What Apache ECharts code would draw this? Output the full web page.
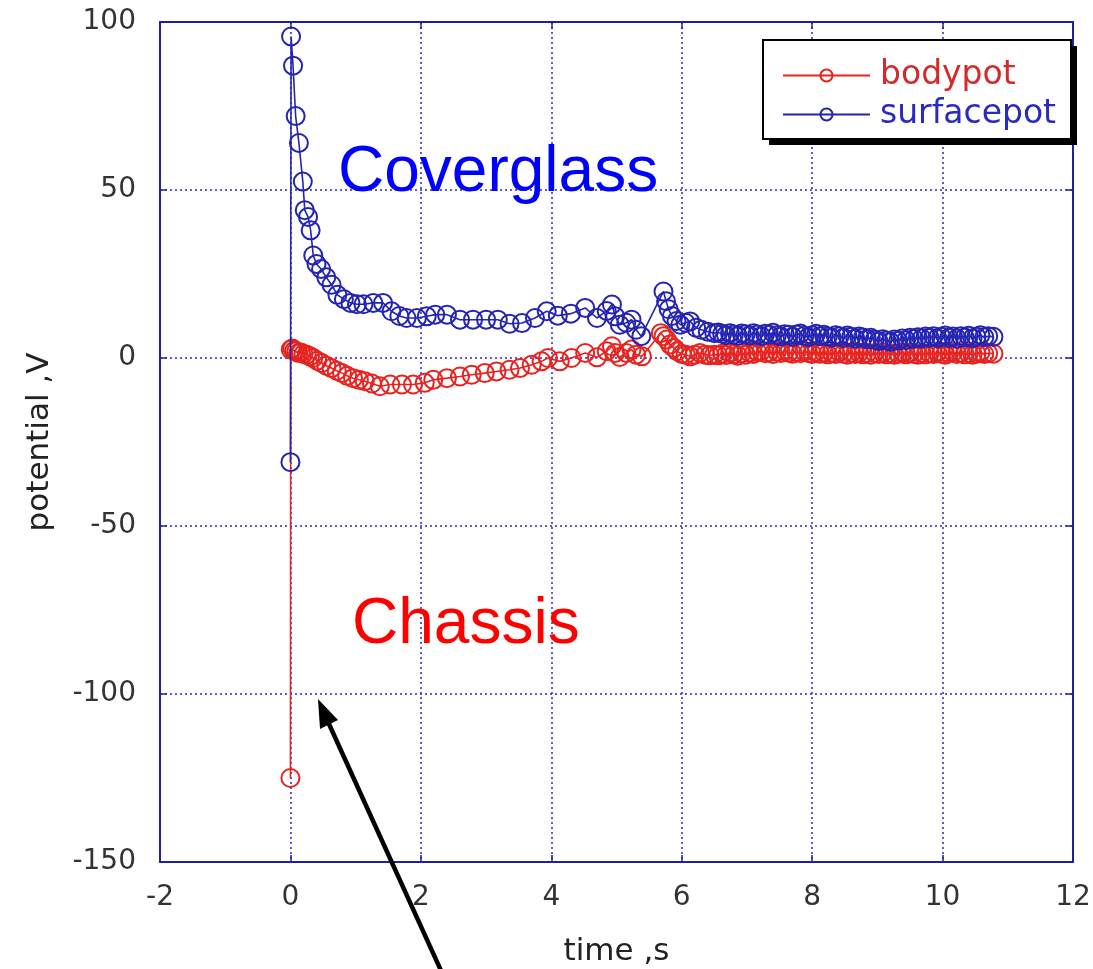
<!DOCTYPE html>
<html>
<head>
<meta charset="utf-8">
<script src="https://cdn.jsdelivr.net/npm/echarts@6/dist/echarts.min.js"></script>
<style>
html,body{margin:0;padding:0;background:#fff;}
#chart{width:1093px;height:969px;}
</style>
</head>
<body>
<div id="chart"></div>
<script>
// ---- data ----
const xTicks = [-2, 0, 2, 4, 6, 8, 10, 12];
const yTicks = [-150, -100, -50, 0, 50, 100];

const bodyTime = [0, 0.005, 0.03, 0.06, 0.09, 0.12, 0.16, 0.20, 0.25, 0.30, 0.35, 0.41, 0.48, 0.55, 0.63, 0.71, 0.79, 0.87, 0.96, 1.05, 1.14, 1.25, 1.37, 1.53, 1.71, 1.88, 2.06, 2.19, 2.40, 2.60, 2.78, 2.98, 3.16, 3.36, 3.52, 3.70, 3.85, 3.95, 4.13, 4.31, 4.52, 4.70, 4.85, 4.93, 4.98, 5.05, 5.15, 5.23, 5.30, 5.39, 5.68, 5.72, 5.77, 5.82, 5.88, 5.93, 6.00, 6.06, 6.13, 6.20, 6.28, 6.36, 6.43, 6.50,
  6.56, 6.62, 6.68, 6.74, 6.80, 6.86, 6.92, 6.98, 7.04, 7.10, 7.16, 7.22, 7.28, 7.34, 7.40, 7.46, 7.52, 7.58, 7.64, 7.70, 7.76, 7.82, 7.88, 7.94, 8.00, 8.06, 8.12, 8.18, 8.24, 8.30, 8.36, 8.42, 8.48, 8.54, 8.60, 8.66, 8.72, 8.78, 8.84, 8.90, 8.96, 9.02, 9.08, 9.14, 9.20, 9.26, 9.32, 9.38, 9.44, 9.50, 9.56, 9.62, 9.68, 9.74, 9.80, 9.86, 9.92, 9.98, 10.04, 10.10, 10.16, 10.22, 10.28, 10.34, 10.40, 10.46, 10.52, 10.58, 10.64, 10.70, 10.78];
const bodyPot = [-125, 2.5, 2.8, 2.2, 2.0, 1.5, 1.6, 1.2, 1.0, 0.5, 0, -0.8, -1.5, -2.3, -3, -3.8, -4.5, -5.3, -6, -6.5, -6.9, -7.6, -8.4, -7.9, -7.9, -7.9, -7.4, -6.5, -6, -5.5, -5, -4.5, -4, -3.5, -3, -2, -1, 0, -1, 0, 1.5, 0.2, 2, 3.5, 1.5, 0.3, 1.5, 2.5, 1, 0.5, 7.4, 6.5, 5.5, 4, 3, 2, 1.2, 1, 0.5, 1, 1.5, 1, 0.8, 1,
  0.8, 1.3, 0.9, 1.5, 1.1, 0.7, 1.4, 1.0, 1.6, 1.2, 1.8, 2.0, 1.4, 1.7, 1.2, 1.9, 1.5, 2.0, 1.6, 1.3, 1.8, 1.4, 1.9, 1.5, 1.2, 1.7, 1.3, 1.6, 1.1, 1.5, 1.2, 1.7, 1.3, 1.0, 1.5, 1.2, 1.6, 1.1, 1.4, 1.0, 1.5, 1.2, 1.6, 1.1, 1.4, 1.0, 1.3, 1.6, 1.1, 1.5, 1.2, 1.0, 1.4, 1.1, 1.5, 1.2, 1.6, 1.3, 1.0, 1.4, 1.7, 1.2, 1.5, 1.1, 1.4, 1.0, 1.3, 1.6, 1.2, 1.4, 1.3];

const surfTime = [0, 0.01, 0.04, 0.08, 0.13, 0.19, 0.22, 0.27, 0.31, 0.35, 0.40, 0.47, 0.55, 0.63, 0.72, 0.82, 0.92, 1.02, 1.12, 1.27, 1.42, 1.55, 1.67, 1.78, 1.94, 2.09, 2.22, 2.40, 2.60, 2.80, 3.00, 3.18, 3.36, 3.55, 3.75, 3.93, 4.10, 4.30, 4.52, 4.70, 4.85, 4.93, 4.98, 5.05, 5.15, 5.23, 5.30, 5.38, 5.72, 5.76, 5.80, 5.85, 5.92, 5.98, 6.06, 6.13, 6.22, 6.30, 6.40, 6.50,
  6.56, 6.62, 6.68, 6.74, 6.80, 6.86, 6.92, 6.98, 7.04, 7.10, 7.16, 7.22, 7.28, 7.34, 7.40, 7.46, 7.52, 7.58, 7.64, 7.70, 7.76, 7.82, 7.88, 7.94, 8.00, 8.06, 8.12, 8.18, 8.24, 8.30, 8.36, 8.42, 8.48, 8.54, 8.60, 8.66, 8.72, 8.78, 8.84, 8.90, 8.96, 9.02, 9.08, 9.14, 9.20, 9.26, 9.32, 9.38, 9.44, 9.50, 9.56, 9.62, 9.68, 9.74, 9.80, 9.86, 9.92, 9.98, 10.04, 10.10, 10.16, 10.22, 10.28, 10.34, 10.40, 10.46, 10.52, 10.58, 10.64, 10.70, 10.78];
const surfPot = [-31, 95.7, 87, 72, 64, 52.5, 44, 42, 38, 30.5, 28, 26.5, 24, 21.8, 18.8, 17.5, 16.4, 16, 16, 16.4, 16.4, 13.9, 12.5, 11.9, 11.9, 12.4, 12.9, 12.9, 11.4, 11.4, 11.4, 11.4, 10.2, 10.4, 11.9, 13.9, 12.6, 13.2, 14.9, 11.9, 14, 15.9, 12.4, 9.9, 10.5, 11.4, 8.4, 6.5, 19.8, 16.9, 14.5, 12.5, 11, 9.9, 10.5, 10.9, 9, 8.4, 7.8, 7.4,
  7.6, 7.2, 6.8, 7.4, 7.0, 6.6, 7.3, 7.1, 6.7, 7.4, 7.0, 6.5, 7.2, 6.9, 7.5, 6.8, 6.4, 7.1, 6.9, 6.3, 7.0, 7.3, 6.6, 6.2, 6.8, 7.2, 6.5, 6.9, 6.4, 6.1, 6.8, 6.5, 6.0, 6.7, 6.3, 5.8, 6.4, 6.1, 5.6, 6.0, 5.4, 5.0, 5.6, 5.2, 4.8, 5.5, 5.1, 5.8, 5.3, 6.0, 5.7, 6.2, 5.8, 6.4, 6.0, 6.5, 5.9, 6.3, 6.7, 6.0, 6.4, 5.8, 6.5, 6.1, 6.6, 5.9, 6.3, 6.8, 6.2, 6.5, 6.3];

const seriesNames = ['bodypot', 'surfacepot'];
const axisNames = ['time ,s', 'potential ,V'];
const annotations = ['Coverglass', 'Chassis'];

// ---- chart ----
const RED = '#e8221e';
const BLUE = '#2424b4';
const AXIS = '#20209c';
const FONT = '"DejaVu Sans", sans-serif';
const AFONT = '"Liberation Sans", Arial, sans-serif';

const pairs = (xs, ys) => xs.map((x, i) => [x, ys[i]]);

const chart = echarts.init(document.getElementById('chart'), null, {renderer: 'canvas'});

const xMin = xTicks[0], xMax = xTicks[xTicks.length - 1], xInt = xTicks[1] - xTicks[0];
const yMin = yTicks[0], yMax = yTicks[yTicks.length - 1], yInt = yTicks[1] - yTicks[0];

const baseAxisLine = {show: true, onZero: false, lineStyle: {color: AXIS, width: 2}};
const tickIn = {show: true, inside: true, length: 7, lineStyle: {color: AXIS, width: 1.5}};

chart.setOption({
  animation: false,
  backgroundColor: '#fff',
  grid: {left: 160, right: 20, top: 22, bottom: 107, containLabel: false, outerBoundsMode: 'none'},
  legend: {
    orient: 'vertical',
    left: 782,
    top: 59,
    padding: 0,
    itemGap: 6,
    itemWidth: 87,
    itemHeight: 15,
    z: 20,
    textStyle: {fontSize: 33, fontFamily: FONT, padding: [0, 0, 0, 5]},
    data: [
      {name: seriesNames[0], textStyle: {color: '#d42a2a'}},
      {name: seriesNames[1], textStyle: {color: '#2a2ac0'}}
    ]
  },
  xAxis: [{
    type: 'value', position: 'bottom', min: xMin, max: xMax, interval: xInt,
    name: axisNames[0], nameLocation: 'middle', nameGap: 74,
    nameTextStyle: {fontSize: 31, color: '#222', fontFamily: FONT},
    axisLine: baseAxisLine, axisTick: tickIn,
    axisLabel: {fontSize: 28, color: '#333', fontFamily: FONT, margin: 22},
    splitLine: {show: true, lineStyle: {color: '#2828c0', width: 1.5, type: [2, 3]}}
  }, {
    type: 'value', position: 'top', min: xMin, max: xMax, interval: xInt,
    axisLine: baseAxisLine, axisTick: tickIn, axisLabel: {show: false}, splitLine: {show: false}
  }],
  yAxis: [{
    type: 'value', position: 'left', min: yMin, max: yMax, interval: yInt,
    name: axisNames[1], nameLocation: 'middle', nameGap: 105, nameRotate: 90,
    nameTextStyle: {fontSize: 31, color: '#222', fontFamily: FONT},
    axisLine: baseAxisLine, axisTick: tickIn,
    axisLabel: {fontSize: 28, color: '#333', fontFamily: FONT, margin: 24},
    splitLine: {show: true, lineStyle: {color: '#2828c0', width: 1.5, type: [2, 3]}}
  }, {
    type: 'value', position: 'right', min: yMin, max: yMax, interval: yInt,
    axisLine: baseAxisLine, axisTick: tickIn, axisLabel: {show: false}, splitLine: {show: false}
  }],
  series: [{
    name: seriesNames[0], type: 'line', xAxisIndex: 0, yAxisIndex: 0,
    data: pairs(bodyTime, bodyPot),
    symbol: 'circle', symbolSize: 18, showAllSymbol: true,
    lineStyle: {color: RED, width: 1.6},
    itemStyle: {color: 'rgba(0,0,0,0)', borderColor: RED, borderWidth: 2},
    z: 3
  }, {
    name: seriesNames[1], type: 'line', xAxisIndex: 0, yAxisIndex: 0,
    data: pairs(surfTime, surfPot),
    symbol: 'circle', symbolSize: 18, showAllSymbol: true,
    lineStyle: {color: BLUE, width: 1.6},
    itemStyle: {color: 'rgba(0,0,0,0)', borderColor: BLUE, borderWidth: 2},
    z: 4
  }],
  graphic: [
    {type: 'rect', z: 14, shape: {x: 769, y: 46, width: 308, height: 99},
     style: {fill: '#000'}},
    {type: 'rect', z: 15, shape: {x: 763, y: 40, width: 308, height: 99},
     style: {fill: '#fff', stroke: '#000', lineWidth: 2}},
    {type: 'text', left: 338, top: 141, z: 10,
     style: {text: annotations[0], fill: '#0000ff', fontSize: 64, fontFamily: AFONT}},
    {type: 'text', left: 352, top: 593, z: 10,
     style: {text: annotations[1], fill: '#ff0000', fontSize: 64, fontFamily: AFONT}},
    {type: 'polyline', z: 10, shape: {points: [[443, 975], [329, 724]]},
     style: {stroke: '#000', lineWidth: 4.5}},
    {type: 'polygon', z: 10, shape: {points: [[318, 699], [338, 720], [320, 729]]},
     style: {fill: '#000'}}
  ]
});
</script>
</body>
</html>
